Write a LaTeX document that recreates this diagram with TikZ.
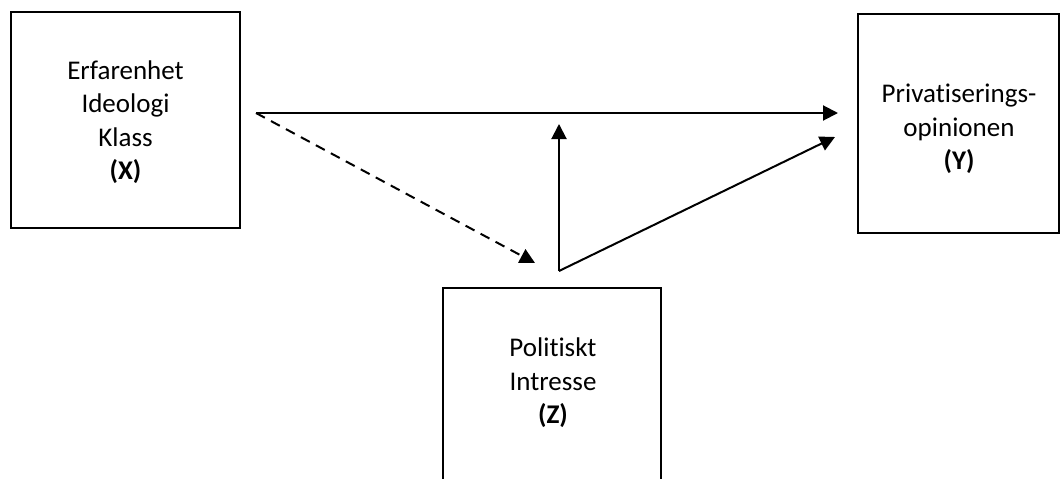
\documentclass[tikz,border=0pt]{standalone}
\usepackage{fontspec}
\setmainfont{Carlito}[Ligatures={NoCommon}]
\usetikzlibrary{arrows.meta}
\begin{document}
\begin{tikzpicture}[x=1pt,y=-1pt,
  box/.style={draw=black,line width=2pt,rectangle,inner sep=0pt},
  txt/.style={align=center,inner sep=0pt,font=\fontsize{27}{33.5}\selectfont},
  conn/.style={line width=2pt,-{Triangle[length=15pt,width=15pt]}},
  dconn/.style={conn,dash pattern=on 10pt off 7pt}]
\useasboundingbox (0,0) rectangle (1060,479);
\clip (0,0) rectangle (1060,479);
\fill[white] (0,0) rectangle (1060,479);
\node[box,minimum width=229pt,minimum height=216pt] (X) at (125.5,120) {};
\node[txt] (Xt) at (125.5,122) {Erfarenhet\\Ideologi\\Klass\\\textbf{(X)}};
\node[box,minimum width=201pt,minimum height=219pt] (Y) at (958.5,123.5) {};
\node[txt] (Yt) at (959,129) {Privatiserings-\\opinionen\\\textbf{(Y)}};
\node[box,minimum width=218pt,minimum height=195pt] (Z) at (552,385.5) {};
\node[txt] (Zt) at (553,383) {Politiskt\\Intresse\\\textbf{(Z)}};
\coordinate (src) at (256,113);
\coordinate (ytop) at (838,113);
\coordinate (ybot) at (835,137);
\coordinate (zt) at (559,271);
\coordinate (dend) at (535,263);
\coordinate (mid) at (559,124);
\draw[conn] (src) -- (ytop);
\draw[dconn] (src) -- (dend);
\draw[conn] (zt) -- (mid);
\draw[conn] (zt) -- (ybot);
\end{tikzpicture}
\end{document}
